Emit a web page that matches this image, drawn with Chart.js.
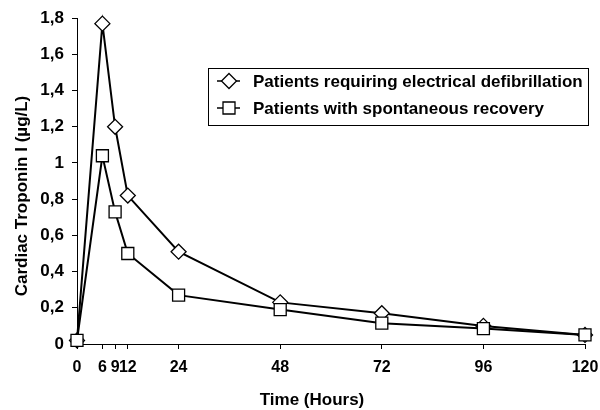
<!DOCTYPE html>
<html>
<head>
<meta charset="utf-8">
<script src="https://cdn.jsdelivr.net/npm/chart.js@4.4.0/dist/chart.umd.min.js"></script>
<style>
html,body{margin:0;padding:0;background:#fff;}
#wrap{position:relative;width:600px;height:410px;}
</style>
</head>
<body>
<div id="wrap"><canvas id="c" width="600" height="410"></canvas></div>
<script>
const hours = [0, 6, 9, 12, 24, 48, 72, 96, 120];
const xTicks = [0, 6, 9, 12, 24, 48, 72, 96, 120];
const defibrillation = [0.02, 1.77, 1.2, 0.82, 0.51, 0.23, 0.17, 0.1, 0.05];
const spontaneous = [0.02, 1.04, 0.73, 0.5, 0.27, 0.19, 0.115, 0.085, 0.05];
const seriesNames = ['Patients requiring electrical defibrillation', 'Patients with spontaneous recovery'];
const yTitle = 'Cardiac Troponin I (µg/L)';
const xTitle = 'Time (Hours)';

const FONT = '"Liberation Sans", Arial, sans-serif';

function pts(vals){ return hours.map((h,i)=>({x:h,y:vals[i]})); }

const decorPlugin = {
  id: 'decor',
  afterDraw(chart){
    const ctx = chart.ctx;
    ctx.save();
    ctx.fillStyle = '#000';
    ctx.font = 'bold 17px ' + FONT;
    ctx.textAlign = 'center';
    ctx.textBaseline = 'middle';
    ctx.fillText(xTitle, 312, 400);
    ctx.save();
    ctx.translate(22, 196);
    ctx.rotate(-Math.PI / 2);
    ctx.fillText(yTitle, 0, 0);
    ctx.restore();

    const bx = 208, by = 68, bw = 380, bh = 57;
    ctx.strokeStyle = '#000'; ctx.lineWidth = 1;
    ctx.strokeRect(bx + 0.5, by + 0.5, bw, bh);
    ctx.textAlign = 'left';
    const rows = [by + 13, by + 40];
    rows.forEach((yy, i) => {
      ctx.beginPath();
      ctx.strokeStyle = '#000';
      ctx.lineWidth = 1.5;
      ctx.moveTo(217, yy); ctx.lineTo(240, yy); ctx.stroke();
      ctx.beginPath();
      const cx = 229;
      if (i === 0) {
        const r = 7.5;
        ctx.moveTo(cx, yy - r); ctx.lineTo(cx + r, yy); ctx.lineTo(cx, yy + r); ctx.lineTo(cx - r, yy); ctx.closePath();
      } else {
        const s = 6;
        ctx.rect(cx - s, yy - s, 2 * s, 2 * s);
      }
      ctx.fillStyle = '#fff'; ctx.fill();
      ctx.lineWidth = 1.3; ctx.stroke();
      ctx.fillStyle = '#000';
      ctx.fillText(seriesNames[i], 253, yy + 1);
    });
    ctx.restore();
  }
};

new Chart(document.getElementById('c'), {
  type: 'line',
  data: {
    datasets: [
      { label: seriesNames[0], data: pts(defibrillation), borderColor: '#000', borderWidth: 2,
        pointStyle: 'rectRot', pointRadius: 7.5, pointBackgroundColor: '#fff', pointBorderColor: '#000',
        pointBorderWidth: 1.3, tension: 0, order: 2, clip: false },
      { label: seriesNames[1], data: pts(spontaneous), borderColor: '#000', borderWidth: 2,
        pointStyle: 'rect', pointRadius: 8.5, pointBackgroundColor: '#fff', pointBorderColor: '#000',
        pointBorderWidth: 1.3, tension: 0, order: 1, clip: false }
    ]
  },
  options: {
    responsive: false,
    animation: false,
    layout: { padding: { top: 17, right: 15, left: 0, bottom: 0 } },
    plugins: { legend: { display: false }, tooltip: { enabled: false } },
    scales: {
      x: {
        type: 'linear', min: 0, max: 120,
        afterBuildTicks(scale){ scale.ticks = xTicks.map(v => ({value: v})); },
        afterFit(scale){ scale.height = 66; scale.paddingLeft = 0; scale.paddingRight = 0; },
        grid: { drawOnChartArea: false, color: '#000', tickLength: 5, tickColor: '#000' },
        border: { color: '#000', width: 1 },
        ticks: { color: '#000', font: { family: FONT, size: 16, weight: 'bold' }, padding: 9, maxRotation: 0, autoSkip: false,
                 callback: v => String(v) },
        title: { display: false }
      },
      y: {
        min: 0, max: 1.8,
        afterFit(scale){ scale.width = 77; },
        grid: { drawOnChartArea: false, color: '#000', tickLength: 5, tickColor: '#000' },
        border: { color: '#000', width: 1 },
        ticks: { stepSize: 0.2, color: '#000', font: { family: FONT, size: 17, weight: 'bold' }, padding: 8,
                 callback: v => String(Number(v.toFixed(1))).replace('.', ',') },
        title: { display: false }
      }
    }
  },
  plugins: [decorPlugin]
});
</script>
</body>
</html>
